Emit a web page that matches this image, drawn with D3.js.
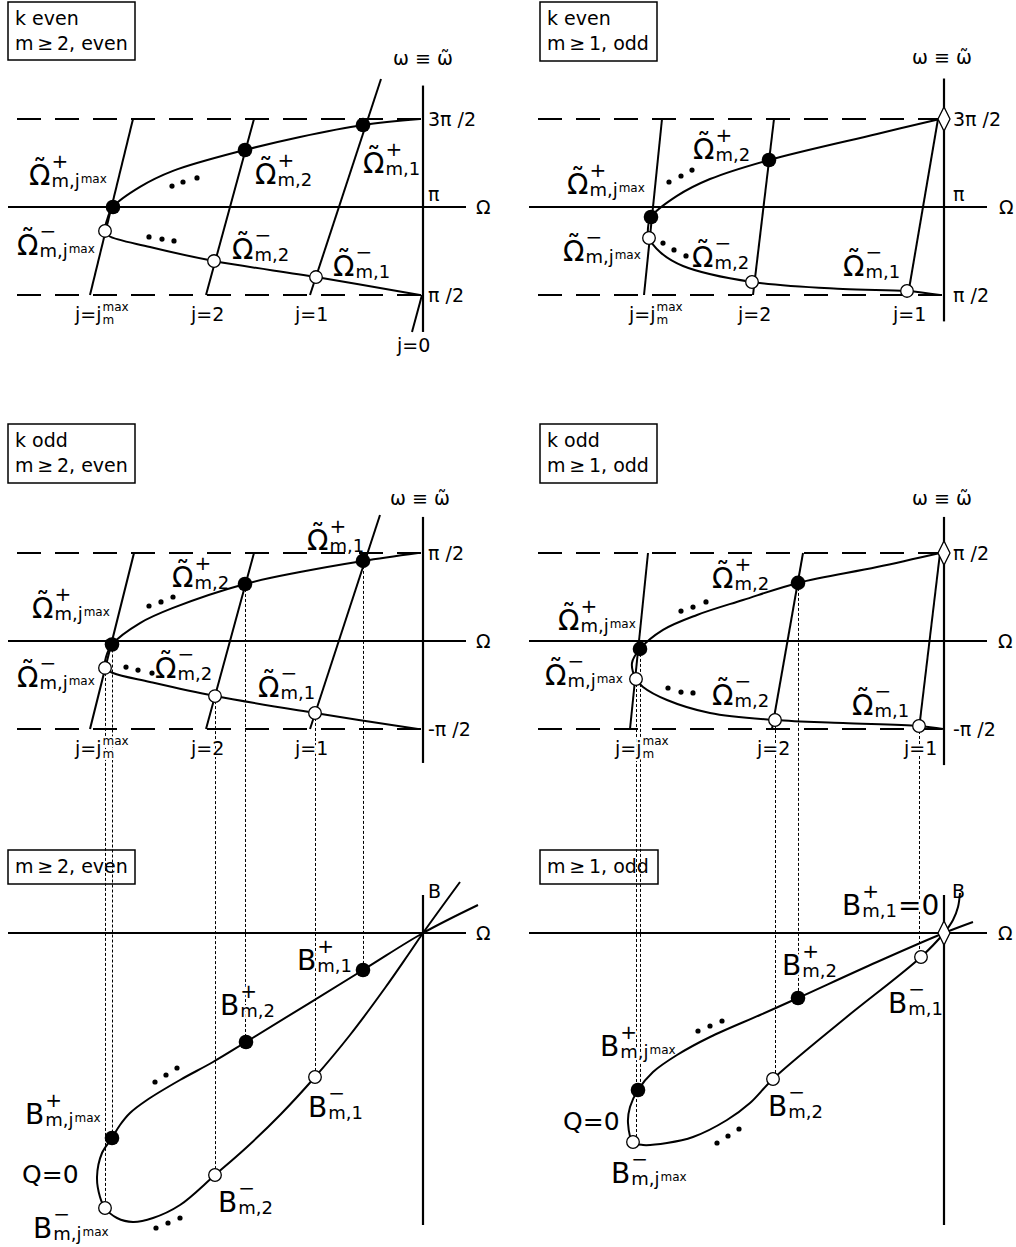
<!DOCTYPE html>
<html>
<head>
<meta charset="utf-8">
<script src="https://cdn.jsdelivr.net/npm/d3@7"></script>
<style>
  body { margin: 0; background: #fff; }
  text { font-family: "DejaVu Sans", sans-serif; fill: #000; }
  .lab { paint-order: stroke; stroke: #fff; stroke-width: 4px; stroke-linejoin: round; }
</style>
</head>
<body>
<div id="chart"></div>
<script>

// ---- data (Omega in arbitrary units, omega in units of pi, B in arbitrary units) ----

// k even, m even
var curveA = [[-0.03,1.5],[-0.60,1.466],[-1.23,1.398],[-1.78,1.324],[-2.50,1.205],[-2.83,1.114],[-3.10,1.0],
  [-3.16,0.926],[-3.18,0.864],[-3.14,0.835],[-2.73,0.773],[-2.09,0.693],[-1.07,0.602],[-0.03,0.5]]
var plusA = [[-3.10,1.0],[-1.78,1.324],[-0.60,1.466]]
var minusA = [[-3.18,0.864],[-2.09,0.693],[-1.07,0.602]]
var jLinesA = [[[-3.33,0.5],[-2.90,1.5]], [[-2.17,0.5],[-1.69,1.5]], [[-1.13,0.5],[-0.42,1.727]], [[-0.11,0.29],[-0.01,0.5]]]
var jNamesA = ["max","2","1","0"]
var ellA = [[[-2.51,1.119],[-2.40,1.142],[-2.26,1.165]], [[-2.74,0.830],[-2.61,0.818],[-2.49,0.807]]]

// k even, m odd
var curveB = [[-0.04,1.5],[-0.67,1.415],[-1.75,1.267],[-2.34,1.159],[-2.67,1.063],[-2.93,0.943],[-2.96,0.881],
  [-2.95,0.824],[-2.84,0.744],[-2.61,0.665],[-1.92,0.574],[-1.01,0.534],[-0.37,0.523],[-0.04,0.5]]
var plusB = [[-2.93,0.943],[-1.75,1.267]]
var minusB = [[-2.95,0.824],[-1.92,0.574],[-0.37,0.523]]
var jLinesB = [[[-3.00,0.5],[-2.82,1.5]], [[-1.91,0.5],[-1.70,1.5]], [[-0.36,0.5],[-0.06,1.5]]]
var jNamesB = ["max","2","1"]
var ellB = [[[-2.75,1.142],[-2.63,1.176],[-2.52,1.210]], [[-2.81,0.795],[-2.70,0.756],[-2.58,0.722]]]

// k odd, m even
var curveC = [[-0.05,0.5],[-0.60,0.455],[-1.23,0.392],[-1.78,0.324],[-2.50,0.188],[-2.83,0.102],[-3.11,-0.02],
  [-3.17,-0.091],[-3.18,-0.153],[-3.10,-0.182],[-2.73,-0.233],[-2.08,-0.313],[-1.08,-0.409],[-0.05,-0.5]]
var plusC = [[-3.11,-0.02],[-1.78,0.324],[-0.60,0.455]]
var minusC = [[-3.18,-0.153],[-2.08,-0.313],[-1.08,-0.409]]
var jLinesC = [[[-3.33,-0.5],[-2.89,0.5]], [[-2.17,-0.5],[-1.69,0.5]], [[-1.13,-0.5],[-0.43,0.716]]]
var jNamesC = ["max","2","1"]
var ellC = [[[-2.74,0.199],[-2.62,0.222],[-2.50,0.250]], [[-2.97,-0.148],[-2.85,-0.165],[-2.71,-0.182]]]

// k odd, m odd
var curveD = [[-0.04,0.5],[-0.67,0.420],[-1.46,0.330],[-2.01,0.233],[-2.47,0.148],[-2.81,0.063],[-3.04,-0.045],
  [-3.12,-0.125],[-3.08,-0.216],[-3.01,-0.261],[-2.77,-0.335],[-2.34,-0.409],[-1.69,-0.449],[-1.01,-0.466],
  [-0.25,-0.483],[-0.01,-0.5]]
var plusD = [[-3.04,-0.045],[-1.46,0.330]]
var minusD = [[-3.08,-0.216],[-1.69,-0.449],[-0.25,-0.483]]
var jLinesD = [[[-3.14,-0.5],[-2.96,0.5]], [[-1.72,-0.5],[-1.41,0.5]], [[-0.25,-0.5],[-0.04,0.5]]]
var jNamesD = ["max","2","1"]
var ellD = [[[-2.63,0.170],[-2.51,0.193],[-2.38,0.222]], [[-2.76,-0.267],[-2.63,-0.290],[-2.51,-0.295]]]

// B(Omega), m even
var curveE = [[0.55,0.28],[0,0],[-0.60,-0.37],[-1.77,-1.09],[-2.10,-1.29],[-2.43,-1.47],[-2.76,-1.67],[-2.93,-1.80],
  [-3.03,-1.92],[-3.11,-2.05],[-3.21,-2.20],[-3.26,-2.44],[-3.23,-2.64],[-3.18,-2.75],[-3.06,-2.85],[-2.90,-2.89],
  [-2.70,-2.85],[-2.43,-2.72],[-2.08,-2.42],[-1.76,-2.14],[-1.42,-1.81],[-1.08,-1.44],[-0.73,-1.02],[-0.38,-0.55],
  [-0.15,-0.22],[0,0],[0.37,0.51]]
var plusE = [[-3.11,-2.05],[-1.77,-1.09],[-0.60,-0.37]]
var minusE = [[-3.18,-2.75],[-2.08,-2.42],[-1.08,-1.44]]
var ellE = [[[-2.68,-1.49],[-2.57,-1.42],[-2.46,-1.35]], [[-2.67,-2.95],[-2.55,-2.90],[-2.43,-2.85]]]

// B(Omega), m odd
var curveF = [[0.29,0.11],[0,0],[-0.67,-0.29],[-1.46,-0.65],[-1.84,-0.82],[-2.34,-1.04],[-2.67,-1.22],[-2.91,-1.39],
  [-3.06,-1.57],[-3.14,-1.74],[-3.16,-1.90],[-3.11,-2.09],[-3.01,-2.12],[-2.77,-2.10],[-2.51,-2.04],[-2.17,-1.87],
  [-1.94,-1.70],[-1.71,-1.46],[-1.01,-0.87],[-0.23,-0.24],[0,0],[0.09,0.13],[0.14,0.26],[0.16,0.40]]
var plusF = [[-3.06,-1.57],[-1.46,-0.65]]
var minusF = [[-3.11,-2.09],[-1.71,-1.46],[-0.23,-0.24]]
var ellF = [[[-2.46,-0.98],[-2.34,-0.93],[-2.22,-0.88]], [[-2.27,-2.10],[-2.16,-2.03],[-2.05,-1.96]]]

// tick labels on the omega axis
var tickValsRow1 = [0.5, 1, 1.5]
var tickTextRow1 = ["π /2", "π", "3π /2"]
var tickValsRow2 = [-0.5, 0.5]
var tickTextRow2 = ["-π /2", "π /2"]

// point label subscripts (index 0 = j max, then j=2, j=1)
var subNames = ["m,j", "m,2", "m,1"]
var subSups = ["max", "", ""]

// ---- layout ----
var svg = d3.select("#chart").append("svg")
    .attr("width", 1016)
    .attr("height", 1247)

var xL = d3.scaleLinear().domain([-4.06, 0]).range([17, 423])
var xR = d3.scaleLinear().domain([-4.06, 0]).range([538, 944])
var y1 = d3.scaleLinear().domain([0.5, 1.5]).range([295, 119])
var y2 = d3.scaleLinear().domain([-0.5, 0.5]).range([729, 553])
var y3 = d3.scaleLinear().domain([-3, 0]).range([1233, 933])

var panels = [
  {x: xL, y: y1, box: [8,2,127,58], boxText: ["k even", "m\u2009≥\u20092, even"], curve: curveA, plus: plusA, minus: minusA,
   plusOff: [[-84,-22],[10,34],[0,48]], minusOff: [[-88,24],[18,-2],[17,-1]], jLines: jLinesA, jNames: jNamesA, ell: ellA,
   ticks: [tickValsRow1, tickTextRow1], axisAt: 1, dashes: [0.5,1.5], vAxis: [1.69,0.29], wLab: [393,65], oLab: 476, main: "\u03A9"},
  {x: xR, y: y1, box: [540,2,117,59], boxText: ["k even", "m\u2009≥\u20091, odd"], curve: curveB, plus: plusB, minus: minusB,
   plusOff: [[-84,-23],[-76,-1]], minusOff: [[-86,23],[-60,-15],[-64,-15]], jLines: jLinesB, jNames: jNamesB, ell: ellB,
   ticks: [tickValsRow1, tickTextRow1], axisAt: 1, dashes: [0.5,1.5], vAxis: [1.73,0.35], wLab: [912,64], oLab: 999, main: "\u03A9",
   diamond: [0,1.5], tickPad: 9},
  {x: xL, y: y2, box: [8,424,127,59], boxText: ["k odd", "m\u2009≥\u20092, even"], curve: curveC, plus: plusC, minus: minusC,
   plusOff: [[-80,-27],[-73,3],[-56,-11]], minusOff: [[-88,19],[-60,-18],[-57,-16]], jLines: jLinesC, jNames: jNamesC, ell: ellC,
   ticks: [tickValsRow2, tickTextRow2], axisAt: 0, dashes: [-0.5,0.5], vAxis: [0.705,-0.693], wLab: [390,505], oLab: 476, main: "\u03A9"},
  {x: xR, y: y2, box: [540,424,117,59], boxText: ["k odd", "m\u2009≥\u20091, odd"], curve: curveD, plus: plusD, minus: minusD,
   plusOff: [[-82,-19],[-86,5]], minusOff: [[-91,6],[-63,-15],[-67,-11]], jLines: jLinesD, jNames: jNamesD, ell: ellD,
   ticks: [tickValsRow2, tickTextRow2], axisAt: 0, dashes: [-0.5,0.5], vAxis: [0.705,-0.705], wLab: [912,505], oLab: 998, main: "\u03A9",
   diamond: [0,0.5], tickPad: 9},
  {x: xL, y: y3, box: [8,850,127,34], boxText: ["m\u2009≥\u20092, even"], curve: curveE, plus: plusE, minus: minusE,
   plusOff: [[-87,-14],[-26,-27],[-66,0]], minusOff: [[-72,30],[3,37],[-7,40]], jLines: [], jNames: [], ell: ellE,
   axisAt: 0, dashes: [], vAxis: [0.38,-2.92], oLab: 476, main: "B", bLab: 428, q: [22,1183]},
  {x: xR, y: y3, box: [540,850,118,34], boxText: ["m\u2009≥\u20091, odd"], curve: curveF, plus: plusF, minus: minusF,
   plusOff: [[-38,-34],[-16,-23]], minusOff: [[-22,41],[-5,37],[-33,56]], jLines: [], jNames: [], ell: ellF,
   axisAt: 0, dashes: [], vAxis: [0.38,-2.92], oLab: 998, main: "B", bLab: 952, q: [563,1130],
   diamond: [0,0], diamondLabel: [-102,-18]}
]

// main symbol (tilde over Omega) with stacked super/subscript, all in one text element
function mathLabel(g, x, y, main, sign, sub, subSup, tail) {
  var t = g.append("text").attr("class", "lab").attr("x", x).attr("y", y)
  var m = t.append("tspan").attr("font-size", 28).text(main)
  var w = m.node().getComputedTextLength()
  if (main == "\u03A9") {
    var td = t.append("tspan").attr("font-size", 28).attr("y", y - 6).text("\u02DC")
    var tw = td.node().getComputedTextLength()
    td.attr("x", x + (w - tw) / 2)
  }
  var sx = x + w + 1
  t.append("tspan").attr("x", sx).attr("y", y - 17).attr("font-size", 20).text(sign)
  t.append("tspan").attr("x", sx).attr("y", y + 2).attr("font-size", 18).text(sub)
  if (subSup) t.append("tspan").attr("dx", 1).attr("y", y - 2).attr("font-size", 12).text(subSup)
  if (tail) t.append("tspan").attr("dx", 1).attr("y", y).attr("font-size", 28).text(tail)
}

function jLabel(g, x, y, name) {
  var t = g.append("text").attr("class", "lab").attr("x", x).attr("y", y).attr("font-size", 19)
  if (name == "max") {
    var m = t.append("tspan").text("j=j")
    var w = m.node().getComputedTextLength()
    t.append("tspan").attr("x", x + w + 1).attr("y", y - 10).attr("font-size", 12).text("max")
    t.append("tspan").attr("x", x + w + 1).attr("y", y + 3).attr("font-size", 12).text("m")
  } else {
    t.text("j=" + name)
  }
}

// dotted guides from the omega plots down to the B plots
var guides = [
  [xL, plusC, y2, plusE], [xL, minusC, y2, minusE],
  [xR, plusD, y2, plusF], [xR, minusD, y2, minusF]
]
var gGuide = svg.append("g")
guides.forEach(function(gd) {
  gd[1].forEach(function(d, i) {
    var px = Math.round(gd[0](d[0])) + 0.5
    gGuide.append("line")
      .attr("x1", px).attr("x2", px)
      .attr("y1", gd[2](d[1])).attr("y2", y3(gd[3][i][1]))
      .attr("stroke", "#000").attr("stroke-width", 1).attr("stroke-dasharray", "3,2")
  })
})

panels.forEach(function(p) {
  var x = p.x, y = p.y
  var g = svg.append("g")

  // labels first so their white halo hides the dotted guides
  var lg = g.append("g")
  p.boxText.forEach(function(t, i) {
    lg.append("text").attr("x", p.box[0] + 7).attr("y", p.box[1] + 22.5 + i * 25.5).attr("font-size", 19).text(t)
  })
  p.plus.forEach(function(d, i) {
    mathLabel(lg, x(d[0]) + p.plusOff[i][0], y(d[1]) + p.plusOff[i][1], p.main, "+", subNames[i], subSups[i])
  })
  p.minus.forEach(function(d, i) {
    mathLabel(lg, x(d[0]) + p.minusOff[i][0], y(d[1]) + p.minusOff[i][1], p.main, "\u2212", subNames[i], subSups[i])
  })
  p.jLines.forEach(function(l, i) {
    jLabel(lg, x(l[0][0]) - 15, y(l[0][1]) + (p.jNames[i] == "0" ? 20 : 26), p.jNames[i])
  })
  if (p.diamondLabel) {
    mathLabel(lg, x(p.diamond[0]) + p.diamondLabel[0], y(p.diamond[1]) + p.diamondLabel[1], "B", "+", "m,1", "", "=0")
  }
  if (p.q) lg.append("text").attr("class", "lab").attr("x", p.q[0]).attr("y", p.q[1]).attr("font-size", 25).text("Q=0")

  // box
  g.append("rect")
    .attr("x", p.box[0]).attr("y", p.box[1]).attr("width", p.box[2]).attr("height", p.box[3])
    .attr("fill", "none").attr("stroke", "#000").attr("stroke-width", 1.5)

  // dashed limits
  p.dashes.forEach(function(v) {
    g.append("line")
      .attr("x1", x(-4.06)).attr("x2", x(0)).attr("y1", y(v)).attr("y2", y(v))
      .attr("stroke", "#000").attr("stroke-width", 2.2).attr("stroke-dasharray", "24,14")
  })

  // axes
  g.append("line")
    .attr("x1", x(-4.15)).attr("x2", x(0.43)).attr("y1", y(p.axisAt)).attr("y2", y(p.axisAt))
    .attr("stroke", "#000").attr("stroke-width", 2.2)
  g.append("line")
    .attr("x1", x(0)).attr("x2", x(0)).attr("y1", y(p.vAxis[0])).attr("y2", y(p.vAxis[1]))
    .attr("stroke", "#000").attr("stroke-width", 2.2)
  g.append("text").attr("x", p.oLab).attr("y", y(p.axisAt) + 7).attr("font-size", 19).text("\u03A9")
  if (p.wLab) g.append("text").attr("x", p.wLab[0]).attr("y", p.wLab[1]).attr("font-size", 19).text("\u03C9 \u2261 \u03C9\u0303")
  if (p.bLab) g.append("text").attr("x", p.bLab).attr("y", 898).attr("font-size", 19).text("B")

  if (p.ticks) {
    var ax = g.append("g")
      .attr("transform", "translate(" + x(0) + ",0)")
      .call(d3.axisRight(y).tickValues(p.ticks[0]).tickSize(0).tickPadding(p.tickPad || 5)
        .tickFormat(function(d, i) { return p.ticks[1][i] }))
    ax.select(".domain").remove()
    ax.selectAll("text").attr("font-size", 19).attr("font-family", "DejaVu Sans")
      .attr("dy", function(d) { return d == 1 ? "-0.35em" : "0.32em" })
  }

  // j lines
  p.jLines.forEach(function(l) {
    g.append("line")
      .attr("x1", x(l[0][0])).attr("y1", y(l[0][1])).attr("x2", x(l[1][0])).attr("y2", y(l[1][1]))
      .attr("stroke", "#000").attr("stroke-width", 2)
  })

  // curve
  var line = d3.line()
    .x(function(d) { return x(d[0]) })
    .y(function(d) { return y(d[1]) })
    .curve(d3.curveCatmullRom.alpha(0.5))
  g.append("path").datum(p.curve).attr("d", line)
    .attr("fill", "none").attr("stroke", "#000").attr("stroke-width", 2)

  // ellipsis dots
  p.ell.forEach(function(set) {
    g.selectAll(null).data(set).enter().append("circle")
      .attr("cx", function(d) { return x(d[0]) }).attr("cy", function(d) { return y(d[1]) })
      .attr("r", 2.6).attr("fill", "#000")
  })

  // points
  g.selectAll(null).data(p.plus).enter().append("circle")
    .attr("cx", function(d) { return x(d[0]) }).attr("cy", function(d) { return y(d[1]) })
    .attr("r", 7.3).attr("fill", "#000")
  g.selectAll(null).data(p.minus).enter().append("circle")
    .attr("cx", function(d) { return x(d[0]) }).attr("cy", function(d) { return y(d[1]) })
    .attr("r", 6.3).attr("fill", "#fff").attr("stroke", "#000").attr("stroke-width", 1.3)

  if (p.diamond) {
    g.append("path")
      .attr("d", "M0,-12L6,0L0,12L-6,0Z")
      .attr("transform", "translate(" + x(p.diamond[0]) + "," + y(p.diamond[1]) + ")")
      .attr("fill", "#fff").attr("stroke", "#000").attr("stroke-width", 1.3)
  }
})

</script>
</body>
</html>
